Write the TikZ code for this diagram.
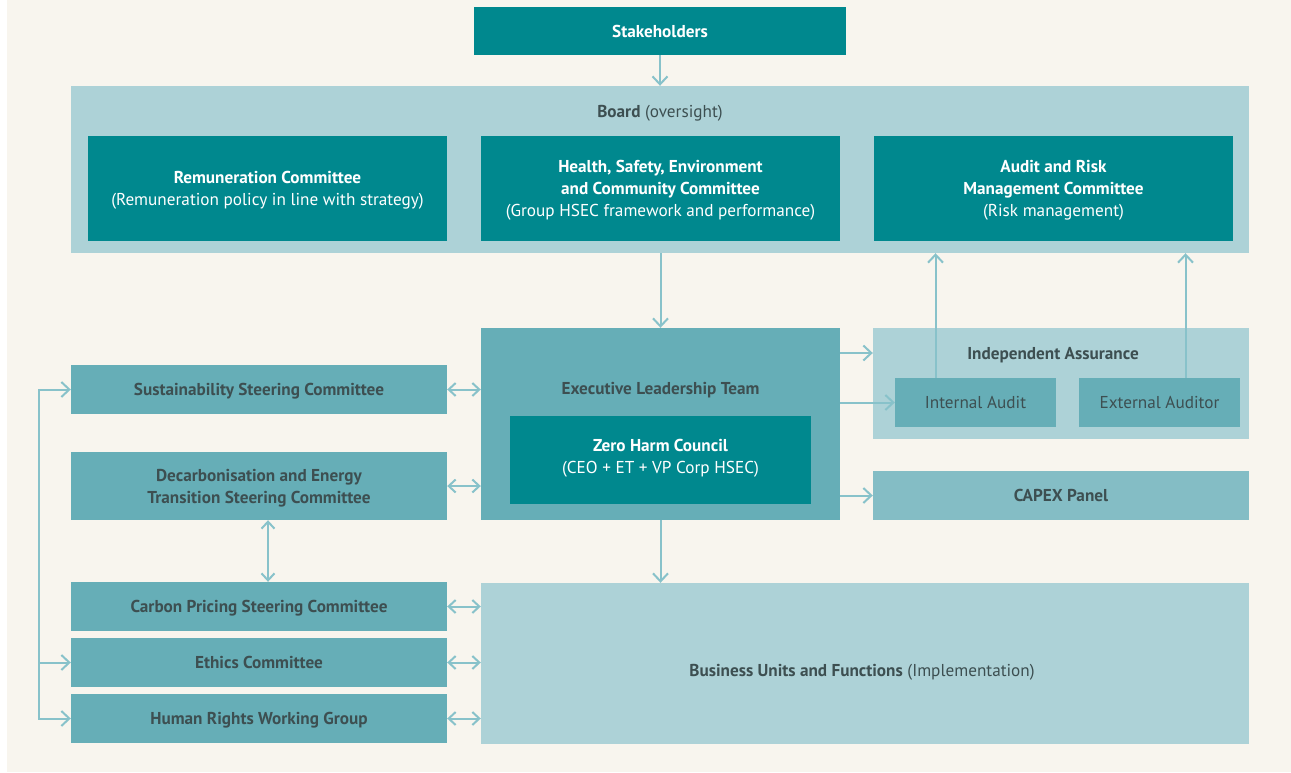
\documentclass[tikz,border=0pt]{standalone}
\usepackage{fontspec}
\setmainfont{PT Sans}
\usetikzlibrary{arrows.meta,calc}

\definecolor{pagebg}{HTML}{F8F5EE}
\definecolor{tealdark}{HTML}{00888E}
\definecolor{tealmid}{HTML}{66AEB7}
\definecolor{teallight}{HTML}{ADD2D7}
\definecolor{tealcapex}{HTML}{84BDC5}
\definecolor{linkcol}{HTML}{88C2CA}
\definecolor{inkdark}{HTML}{3D4F51}

\tikzset{
  box/.style={rectangle, inner sep=0pt, align=center, text depth=0pt,
    font=\fontsize{17.2}{22}\selectfont},
  darkbox/.style={box, fill=tealdark, text=white},
  midbox/.style={box, fill=tealmid, text=inkdark},
  lightbox/.style={box, fill=teallight, text=inkdark},
  capexbox/.style={box, fill=tealcapex, text=inkdark},
  lbl/.style={inner sep=0pt, align=center, text depth=0pt, text=inkdark,
    font=\fontsize{17.2}{22}\selectfont},
  arr/.style={draw=linkcol, line width=2pt,
    -{Straight Barb[length=8pt,width=15pt,line width=2pt]}},
  darr/.style={draw=linkcol, line width=2pt,
    {Straight Barb[length=7pt,width=13pt,line width=2pt]}-{Straight Barb[length=7pt,width=13pt,line width=2pt]}},
}

\begin{document}
\begin{tikzpicture}[x=1pt,y=-1pt]
  % page
  \fill[white] (0,0) rectangle (1291,772);
  \fill[pagebg] (7,0) rectangle (1291,772);
  \useasboundingbox (0,0) rectangle (1291,772);

  % top level
  \node[darkbox, minimum width=372pt, minimum height=48pt] (stake) at (660,31) {\textbf{Stakeholders}};

  \node[lightbox, minimum width=1178pt, minimum height=167pt] (board) at (660,169.5) {};
  \node[lbl] (boardlbl) at (660,111) {\textbf{Board} (oversight)};

  \node[darkbox, minimum width=359pt, minimum height=105pt] (remun) at (267.5,188.5)
    {\textbf{Remuneration Committee}\\(Remuneration policy in line with strategy)};
  \node[darkbox, minimum width=359pt, minimum height=105pt] (hsec) at (660.5,188.5)
    {\textbf{Health, Safety, Environment}\\\textbf{and Community Committee}\\(Group HSEC framework and performance)};
  \node[darkbox, minimum width=359pt, minimum height=105pt] (arm) at (1053.5,188.5)
    {\textbf{Audit and Risk}\\\textbf{Management Committee}\\(Risk management)};

  % executive level
  \node[midbox, minimum width=359pt, minimum height=192pt] (elt) at (660.5,424) {};
  \node[lbl] (eltlbl) at (660.5,388) {\textbf{Executive Leadership Team}};
  \node[darkbox, minimum width=301pt, minimum height=88pt] (zhc) at (660.5,460) {};
  \node[lbl, text=white] (zhclbl) at (660.5,456.5)
    {\textbf{Zero Harm Council}\\(CEO + ET + VP Corp HSEC)};

  % assurance and capex
  \node[lightbox, minimum width=376pt, minimum height=111pt] (ia) at (1061,383.5) {};
  \node[lbl] (ialbl) at (1053,353) {\textbf{Independent Assurance}};
  \node[midbox, minimum width=161pt, minimum height=49pt] (intaud) at (975.5,402.5) {Internal Audit};
  \node[midbox, minimum width=161pt, minimum height=49pt] (extaud) at (1159.5,402.5) {External Auditor};
  \node[capexbox, minimum width=376pt, minimum height=49pt] (capex) at (1061,495.5) {\textbf{CAPEX Panel}};

  % committees on the left
  \node[midbox, minimum width=376pt, minimum height=49pt] (ssc) at (259,389.5) {\textbf{Sustainability Steering Committee}};
  \node[midbox, minimum width=376pt, minimum height=68pt] (decarb) at (259,486)
    {\textbf{Decarbonisation and Energy}\\\textbf{Transition Steering Committee}};
  \node[midbox, minimum width=376pt, minimum height=49pt] (carbon) at (259,606.5) {\textbf{Carbon Pricing Steering Committee}};
  \node[midbox, minimum width=376pt, minimum height=49pt] (ethics) at (259,662.5) {\textbf{Ethics Committee}};
  \node[midbox, minimum width=376pt, minimum height=49pt] (hr) at (259,718.5) {\textbf{Human Rights Working Group}};

  % business units
  \node[lightbox, minimum width=768pt, minimum height=161pt] (bu) at (865,663.5) {};
  \node[lbl] (bulbl) at (862,670) {\textbf{Business Units and Functions} (Implementation)};

  % vertical flow
  \draw[arr] (stake.south) -- (board.north);
  \draw[arr] (board.south -| elt.north) -- (elt.north);
  \draw[arr] (elt.south) -- (elt.south |- bu.north);

  % executive to assurance and capex
  \draw[arr] (elt.east |- ialbl) -- (ia.west |- ialbl);
  \draw[arr] (elt.east |- intaud) -- (intaud.west);
  \draw[arr] (elt.east |- capex) -- (capex.west);

  % auditors report to the audit committee
  \draw[arr] ([xshift=-40pt]intaud.north) -- ([xshift=-40pt]intaud.north |- board.south);
  \draw[arr] ([xshift=26pt]extaud.north) -- ([xshift=26pt]extaud.north |- board.south);

  % two-way links
  \draw[darr] (ssc.east) -- (elt.west |- ssc);
  \draw[darr] (decarb.east) -- (elt.west |- decarb);
  \draw[darr] (carbon.east) -- (bu.west |- carbon);
  \draw[darr] (ethics.east) -- (bu.west |- ethics);
  \draw[darr] (hr.east) -- (bu.west |- hr);
  \draw[darr] ([xshift=9pt]decarb.south) -- ([xshift=9pt]carbon.north);

  % bracket on the left
  \coordinate (brk) at (39,0);
  \draw[arr] (brk |- hr) -- (brk |- ssc) -- (ssc.west);
  \draw[arr] (brk |- ssc) -- (brk |- hr) -- (hr.west);
  \draw[arr] (brk |- ethics) -- (ethics.west);
\end{tikzpicture}
\end{document}
